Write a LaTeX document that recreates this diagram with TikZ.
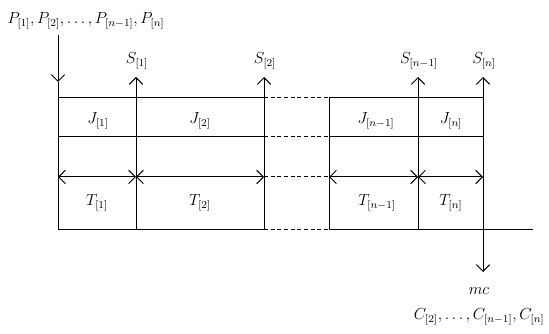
\documentclass[tikz,border=0pt]{standalone}
\usetikzlibrary{arrows.meta}
\tikzset{every picture/.style={line width=0.75pt}}
\tikzset{
lbl/.style={inner sep=0.75pt, font=\large},
gap/.style={dash pattern={on 3pt off 2pt}},
dim/.style={{Straight Barb[length=5pt,width=10pt]}-{Straight Barb[length=5pt,width=10pt]}},
flow/.style={-{Straight Barb[length=5pt,width=10pt]}}}
\begin{document}
\begin{tikzpicture}[x=0.75pt,y=0.75pt,yscale=-1,xscale=1]
\useasboundingbox (0,0) rectangle (549,334);

%Grid corners
\coordinate (a1) at (58,98);  \coordinate (a4) at (58,230);
\coordinate (b1) at (136,98); \coordinate (b4) at (136,230);
\coordinate (c1) at (264,98); \coordinate (c4) at (264,230);
\coordinate (d1) at (329,98); \coordinate (d4) at (329,230);
\coordinate (e1) at (418,98); \coordinate (e4) at (418,230);
\coordinate (f1) at (483,98); \coordinate (f4) at (483,230);
\coordinate (g4) at (533,230);

%Horizontal rows
\draw (a1) -- (c1) (d1) -- (f1) ;
\draw (58,137) -- (264,137) (329,137) -- (483,137) ;
\draw (a4) -- (c4) (d4) -- (g4) ;
\draw [gap] (c1) -- (d1) (264,137) -- (329,137) (264,177) -- (329,177) (c4) -- (d4) ;

%Vertical lines
\draw (a1) -- (a4) (b1) -- (b4) (c1) -- (c4) (d1) -- (d4) (e1) -- (e4) (f1) -- (f4) ;

%Time spans
\draw [dim] (58,177) -- (136,177) ;
\draw [dim] (136,177) -- (264,177) ;
\draw [dim] (329,177) -- (418,177) ;
\draw [dim] (418,177) -- (483,177) ;

% Text Node
\node [lbl, anchor=west] (prc) at (6,21) {$P_{[1]},P_{[2]},\ldots,P_{[n-1]},P_{[n]}$};
\coordinate (pin) at (58,35);
\coordinate (ptip) at (58,82);
\draw [flow] (pin) -- (ptip) ;
\draw (ptip) -- (a1) ;
% Text Node
\node [lbl] (s1) at (137,61) {$S_{[1]}$};
\node [lbl] (s2) at (265,61) {$S_{[2]}$};
\node [lbl] (sn1) at (419,61) {$S_{[n-1]}$};
\node [lbl] (sn) at (484,61) {$S_{[n]}$};
\draw [flow] (b1) -- (136,77) ;
\draw [flow] (c1) -- (264,77) ;
\draw [flow] (e1) -- (418,77) ;
\draw [flow] (f1) -- (483,77) ;
% Text Node
\node [lbl] (j1) at (98,121) {$J_{[1]}$};
\node [lbl] (j2) at (200,121) {$J_{[2]}$};
\node [lbl] (jn1) at (376,121) {$J_{[n-1]}$};
\node [lbl] (jn) at (451,121) {$J_{[n]}$};
% Text Node
\node [lbl] (t1) at (97,203) {$T_{[1]}$};
\node [lbl] (t2) at (200,203) {$T_{[2]}$};
\node [lbl] (tn1) at (377,203) {$T_{[n-1]}$};
\node [lbl] (tn) at (451,203) {$T_{[n]}$};
% Text Node
\node [lbl] (mc) at (479,291) {$mc$};
\node [lbl, anchor=east] (cmp) at (546,317) {$C_{[2]},\ldots,C_{[n-1]},C_{[n]}$};
\draw [flow] (f4) -- (483,272) ;

\end{tikzpicture}
\end{document}
